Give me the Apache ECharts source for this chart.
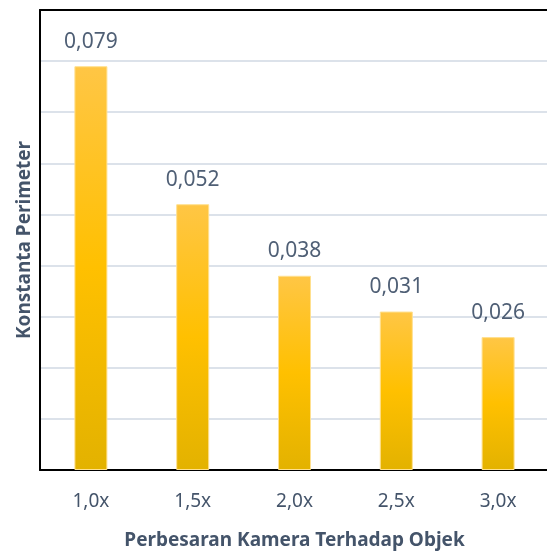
<!DOCTYPE html>
<html>
<head>
<meta charset="utf-8">
<script src="https://cdn.jsdelivr.net/npm/echarts@6/dist/echarts.min.js"></script>
<style>
html,body{margin:0;padding:0;background:#fff;}
#chart{width:547px;height:552px;}
</style>
</head>
<body>
<div id="chart"></div>
<script>
// Magnification levels and the perimeter constant measured at each
const categories = ['1,0x', '1,5x', '2,0x', '2,5x', '3,0x'];
const konstanta = [0.079, 0.052, 0.038, 0.031, 0.026];
const xTitle = 'Perbesaran Kamera Terhadap Objek';
const yTitle = 'Konstanta Perimeter';

const chart = echarts.init(document.getElementById('chart'), null, { renderer: 'canvas' });
const textColor = '#44546A';
const font = '"Noto Sans", "Open Sans", sans-serif';
const frame = { show: true, lineStyle: { color: '#000', width: 2 } };

chart.setOption({
  animation: false,
  grid: { left: 40, top: 10, right: -2, bottom: 82, containLabel: false, outerBoundsMode: 'none' },
  xAxis: [{
    type: 'category',
    data: categories,
    axisLine: frame,
    axisTick: { show: false },
    axisLabel: { color: textColor, fontFamily: font, fontSize: 19, margin: 22 },
    name: xTitle,
    nameLocation: 'middle',
    nameGap: 61,
    nameTextStyle: { color: textColor, fontFamily: font, fontSize: 19, fontWeight: 'bold' }
  }, {
    // top edge of the plot frame
    type: 'category',
    position: 'top',
    data: categories,
    axisLine: frame,
    axisTick: { show: false },
    axisLabel: { show: false }
  }],
  yAxis: {
    type: 'value',
    min: 0, max: 0.09, interval: 0.01,
    axisLine: frame,
    axisTick: { show: false },
    axisLabel: { show: false },
    splitLine: { lineStyle: { color: '#DCE2EA', width: 2 } },
    name: yTitle,
    nameLocation: 'middle',
    nameGap: 6,
    nameTextStyle: { color: textColor, fontFamily: font, fontSize: 19, fontWeight: 'bold' }
  },
  series: [{
    type: 'bar',
    data: konstanta,
    barWidth: 33,
    itemStyle: {
      color: new echarts.graphic.LinearGradient(0, 0, 0, 1, [
        { offset: 0, color: '#FFC645' },
        { offset: 0.5, color: '#FFC000' },
        { offset: 1, color: '#E3B200' }
      ]),
      borderColor: '#FFE08F',
      borderWidth: 1
    },
    label: {
      show: true,
      position: 'top',
      distance: 14,
      color: '#4F5F75',
      fontFamily: font,
      fontSize: 21,
      formatter: p => p.value.toFixed(3).replace('.', ',')
    }
  }]
});
</script>
</body>
</html>
